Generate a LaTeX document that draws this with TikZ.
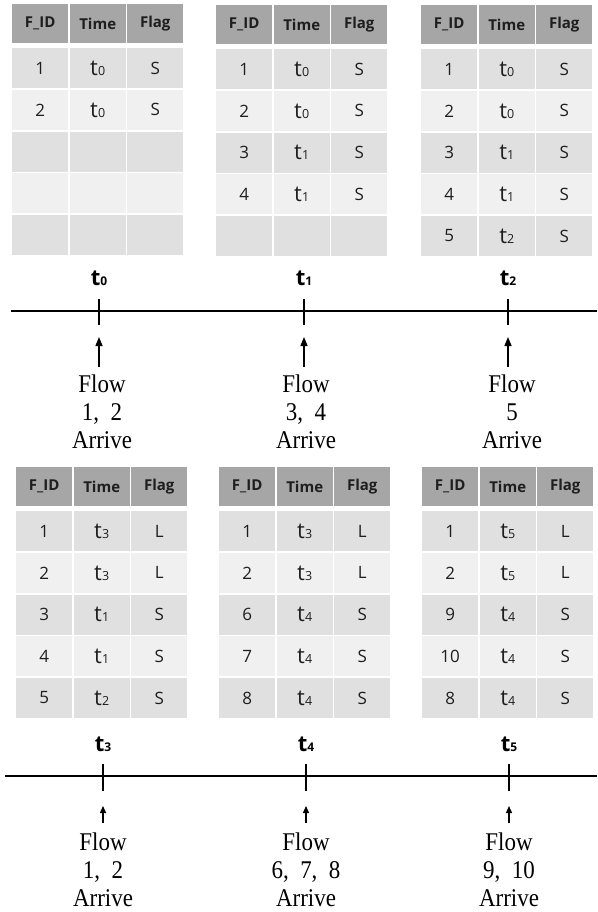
\documentclass[tikz,border=0pt]{standalone}
\usepackage{fontspec}
\setmainfont{Liberation Serif}
\newfontfamily\tabfont{Open Sans}
\newfontfamily\flowfont[FakeStretch=0.9]{Liberation Serif}
\usetikzlibrary{arrows.meta}
\definecolor{hdr}{HTML}{A6A6A6}
\definecolor{rowA}{HTML}{E0E0E0}
\definecolor{rowB}{HTML}{F0F0F0}
\definecolor{txt}{HTML}{1E1E1E}
\newcommand{\tsub}[1]{{\fontsize{22}{22}\selectfont t}{\fontsize{12.5}{12.5}\selectfont #1}}
\newcommand{\tlab}[1]{{\bfseries\fontsize{22}{22}\selectfont t}{\bfseries\fontsize{12}{12}\selectfont #1}}
\tikzset{
  cell/.style={rectangle, inner sep=0pt, minimum width=56pt, minimum height=40pt,
    anchor=north west, text=txt, font=\tabfont\fontsize{17}{17}\selectfont},
  hcell/.style={cell, fill=hdr, minimum height=39pt,
    font=\tabfont\bfseries\fontsize{15}{16}\selectfont},
  axisline/.style={line width=2pt, black},
  tickline/.style={line width=2pt, black},
  uparrow/.style={-{Triangle[length=9pt,width=7pt]}, line width=1.4pt},
  smallup/.style={-{Triangle[length=7pt,width=6pt]}, line width=1.4pt},
  flowtext/.style={align=center, anchor=north, inner sep=0pt,
    font=\flowfont\fontsize{25.5}{28}\selectfont},
  tlabel/.style={inner sep=0pt, text=black, font=\tabfont}
}
\newcommand{\flowtable}[4]{%
  \node[hcell] (#1h1) at (#2,#3) {F\_ID};
  \node[hcell] (#1h2) at (#2+57.5,#3) {Time};
  \node[hcell] (#1h3) at (#2+115,#3) {Flag};
  \foreach \a/\b/\c [count=\r] in {#4} {
    \pgfmathsetmacro\yy{#3+44+(\r-1)*41.7}
    \ifodd\r \def\fc{rowA}\else\def\fc{rowB}\fi
    \node[cell, fill=\fc] (#1r\r a) at (#2,\yy) {\a};
    \node[cell, fill=\fc] (#1r\r b) at (#2+57.5,\yy) {\b};
    \node[cell, fill=\fc] (#1r\r c) at (#2+115,\yy) {\c};
  }%
}
\begin{document}
\begin{tikzpicture}[x=1pt, y=-1pt]
\useasboundingbox (0,0) rectangle (597,912);
% ---------- top tables ----------
\flowtable{A}{12}{4}{1/\tsub{0}/S, 2/\tsub{0}/S, {}/{}/{}, {}/{}/{}, {}/{}/{}}
\flowtable{B}{216}{5}{1/\tsub{0}/S, 2/\tsub{0}/S, 3/\tsub{1}/S, 4/\tsub{1}/S, {}/{}/{}}
\flowtable{C}{421}{5}{1/\tsub{0}/S, 2/\tsub{0}/S, 3/\tsub{1}/S, 4/\tsub{1}/S, 5/\tsub{2}/S}
% ---------- top timeline ----------
\coordinate (axL1) at (11,311);
\coordinate (axR1) at (597,311);
\draw[axisline] (axL1) -- (axR1);
\foreach \n/\x/\lab/\txt/\dx in {0/99/0/{1,\ \ 2}/3, 1/304/1/{3,\ \ 4}/2, 2/508/2/{5}/4} {
  \node[tlabel] (tl\n) at (\x,278) {\tlab{\lab}};
  \coordinate (tkT\n) at (\x,299);
  \coordinate (tkB\n) at (\x,325);
  \draw[tickline] (tkT\n) -- (tkB\n);
  \coordinate (arS\n) at (\x,367);
  \coordinate (arE\n) at (\x,337);
  \draw[uparrow] (arS\n) -- (arE\n);
  \node[flowtext] (fl\n) at (\x+\dx,374.5) {Flow\\\txt\\Arrive};
}
% ---------- bottom tables ----------
\flowtable{D}{16}{467}{1/\tsub{3}/L, 2/\tsub{3}/L, 3/\tsub{1}/S, 4/\tsub{1}/S, 5/\tsub{2}/S}
\flowtable{E}{219}{467}{1/\tsub{3}/L, 2/\tsub{3}/L, 6/\tsub{4}/S, 7/\tsub{4}/S, 8/\tsub{4}/S}
\flowtable{F}{422}{467}{1/\tsub{5}/L, 2/\tsub{5}/L, 9/\tsub{4}/S, 10/\tsub{4}/S, 8/\tsub{4}/S}
% ---------- bottom timeline ----------
\coordinate (axL2) at (5,776);
\coordinate (axR2) at (597,776);
\draw[axisline] (axL2) -- (axR2);
\foreach \n/\x/\lab/\txt in {3/103/3/{1,\ \ 2}, 4/306/4/{6,\ \ 7,\ \ 8}, 5/509/5/{9,\ \ 10}} {
  \node[tlabel] (tl\n) at (\x,744) {\tlab{\lab}};
  \coordinate (tkT\n) at (\x,764);
  \coordinate (tkB\n) at (\x,791);
  \draw[tickline] (tkT\n) -- (tkB\n);
  \coordinate (arS\n) at (\x,823);
  \coordinate (arE\n) at (\x,806);
  \draw[smallup] (arS\n) -- (arE\n);
  \node[flowtext] (fl\n) at (\x,832.5) {Flow\\\txt\\Arrive};
}
\end{tikzpicture}
\end{document}
